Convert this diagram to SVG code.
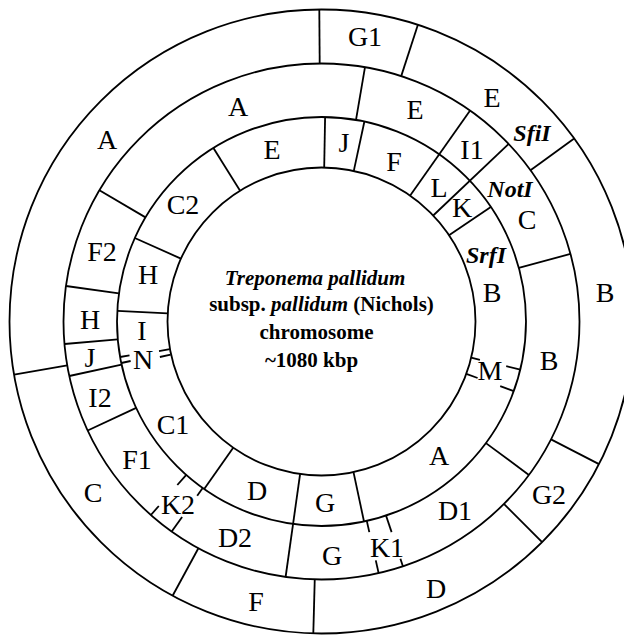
<svg xmlns="http://www.w3.org/2000/svg" width="624" height="636" viewBox="0 0 624 636">
<style>
.ring{fill:none;stroke:#000;stroke-width:1.8}
.ln line{stroke:#000;stroke-width:1.8;stroke-linecap:butt}
.lb{font-family:"Liberation Serif","Times New Roman",serif;font-size:28px;fill:#000;text-anchor:middle}
.en{font-family:"Liberation Serif","Times New Roman",serif;font-size:24px;font-weight:bold;font-style:italic;fill:#000;text-anchor:middle}
.ct{font-family:"Liberation Serif","Times New Roman",serif;font-size:21px;font-weight:bold;fill:#000;text-anchor:middle}
.it{font-style:italic}
</style>
<rect x="0" y="0" width="624" height="636" fill="#fff"/>
<g id="circles">
<circle class="ring" cx="321.5" cy="321.5" r="154"/>
<circle class="ring" cx="321.5" cy="321.5" r="204.5"/>
<circle class="ring" cx="321.5" cy="321.5" r="258"/>
<circle class="ring" cx="321.5" cy="321.5" r="312"/>
</g>
<g id="connectors" class="ln">
<line x1="319.3" y1="9.5" x2="319.7" y2="63.5"/>
<line x1="417.9" y1="24.8" x2="401.2" y2="76.1"/>
<line x1="574.2" y1="138.5" x2="530.5" y2="170.2"/>
<line x1="551.0" y1="439.4" x2="599.0" y2="464.1"/>
<line x1="503.9" y1="503.9" x2="542.1" y2="542.1"/>
<line x1="314.75" y1="579.4" x2="313.3" y2="633.4"/>
<line x1="198.4" y1="548.2" x2="172.6" y2="595.7"/>
<line x1="67.3" y1="365.4" x2="14.1" y2="374.6"/>
<line x1="145.5" y1="217.4" x2="99.4" y2="190.2"/>
<line x1="356.0" y1="119.9" x2="365.0" y2="67.2"/>
<line x1="410.2" y1="195.6" x2="470.1" y2="110.6"/>
<line x1="433.2" y1="215.5" x2="508.7" y2="143.9"/>
<line x1="518.8" y1="267.9" x2="570.5" y2="253.9"/>
<line x1="485.9" y1="443.1" x2="528.9" y2="475.0"/>
<line x1="386.0" y1="515.5" x2="391.6" y2="532.1"/>
<line x1="400.4" y1="558.7" x2="402.9" y2="566.3"/>
<line x1="366.8" y1="520.9" x2="369.3" y2="532.1"/>
<line x1="375.8" y1="560.4" x2="378.6" y2="573.1"/>
<line x1="300.1" y1="474.0" x2="285.6" y2="577.0"/>
<line x1="202.7" y1="488.0" x2="197.2" y2="495.7"/>
<line x1="182.1" y1="516.9" x2="171.7" y2="531.5"/>
<line x1="186.3" y1="474.9" x2="177.3" y2="485.0"/>
<line x1="158.8" y1="506.0" x2="150.9" y2="515.0"/>
<line x1="136.2" y1="407.9" x2="87.7" y2="430.5"/>
<line x1="121.6" y1="364.7" x2="69.3" y2="376.0"/>
<line x1="117.8" y1="339.3" x2="64.5" y2="344.0"/>
<line x1="118.9" y1="293.4" x2="66.0" y2="286.0"/>
<line x1="240.1" y1="190.8" x2="213.4" y2="147.9"/>
<line x1="324.2" y1="167.5" x2="325.1" y2="117.0"/>
<line x1="353.8" y1="170.9" x2="364.4" y2="121.5"/>
<line x1="449.0" y1="235.2" x2="490.8" y2="206.9"/>
<line x1="471.2" y1="357.7" x2="479.9" y2="359.8"/>
<line x1="506.2" y1="366.2" x2="520.3" y2="369.6"/>
<line x1="466.3" y1="373.9" x2="477.6" y2="378.0"/>
<line x1="500.2" y1="386.2" x2="513.8" y2="391.1"/>
<line x1="353.5" y1="472.1" x2="364.0" y2="521.5"/>
<line x1="233.2" y1="447.7" x2="204.2" y2="489.0"/>
<line x1="169.8" y1="349.2" x2="159.0" y2="351.1"/>
<line x1="129.5" y1="355.4" x2="120.1" y2="357.0"/>
<line x1="170.7" y1="354.7" x2="159.9" y2="357.0"/>
<line x1="130.6" y1="361.0" x2="121.3" y2="363.0"/>
<line x1="167.7" y1="313.4" x2="117.3" y2="310.8"/>
<line x1="180.9" y1="258.6" x2="134.8" y2="238.0"/>
</g>
<g id="outer-ring">
<text class="lb" x="365" y="46">G1</text>
<text class="lb" x="492" y="107">E</text>
<text class="en" x="532" y="141">SfiI</text>
<text class="lb" x="605" y="302">B</text>
<text class="lb" x="549" y="504">G2</text>
<text class="lb" x="436" y="598">D</text>
<text class="lb" x="256" y="611">F</text>
<text class="lb" x="93" y="502">C</text>
<text class="lb" x="107" y="149">A</text>
</g>
<g id="middle-ring">
<text class="lb" x="238" y="116">A</text>
<text class="lb" x="415" y="119">E</text>
<text class="lb" x="472" y="159">I1</text>
<text class="en" x="510" y="197">NotI</text>
<text class="lb" x="527" y="229">C</text>
<text class="lb" x="549" y="370">B</text>
<text class="lb" x="455" y="520">D1</text>
<text class="lb" x="387" y="557">K1</text>
<text class="lb" x="332" y="565">G</text>
<text class="lb" x="235" y="547">D2</text>
<text class="lb" x="178" y="514">K2</text>
<text class="lb" x="137" y="469">F1</text>
<text class="lb" x="100" y="407">I2</text>
<text class="lb" x="90" y="367">J</text>
<text class="lb" x="90" y="329">H</text>
<text class="lb" x="102" y="261">F2</text>
</g>
<g id="inner-ring">
<text class="lb" x="272" y="159">E</text>
<text class="lb" x="344" y="152">J</text>
<text class="lb" x="394" y="171">F</text>
<text class="lb" x="439" y="197">L</text>
<text class="lb" x="462" y="217">K</text>
<text class="en" x="486" y="263">SrfI</text>
<text class="lb" x="492" y="302">B</text>
<text class="lb" x="490" y="380">M</text>
<text class="lb" x="439" y="465">A</text>
<text class="lb" x="325" y="512">G</text>
<text class="lb" x="257" y="500">D</text>
<text class="lb" x="173" y="434">C1</text>
<text class="lb" x="143" y="369">N</text>
<text class="lb" x="142" y="340">I</text>
<text class="lb" x="148" y="284">H</text>
<text class="lb" x="183" y="214">C2</text>
</g>
<g id="center-title">
<text class="ct it" x="315" y="284.5">Treponema pallidum</text>
<text class="ct" x="321.5" y="311"><tspan>subsp. </tspan><tspan class="it">pallidum</tspan><tspan> (Nichols)</tspan></text>
<text class="ct" x="316.5" y="338.5">chromosome</text>
<text class="ct" x="311.5" y="366.5">~1080 kbp</text>
</g>
</svg>
